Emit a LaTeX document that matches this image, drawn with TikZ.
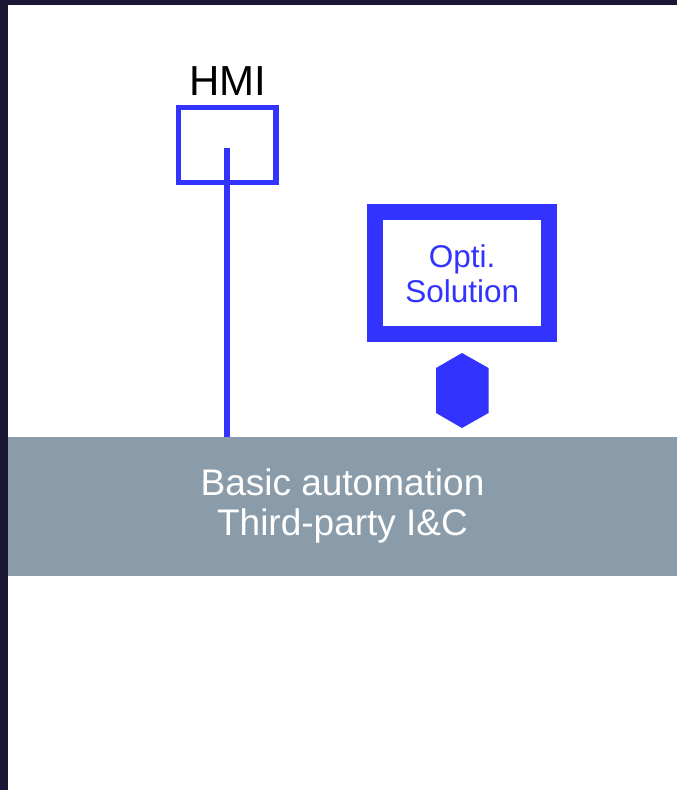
\documentclass[tikz,border=0pt]{standalone}
\usepackage{fontspec}
\setmainfont{Liberation Sans}
\usetikzlibrary{calc}
\definecolor{optiblue}{RGB}{51,51,255}
\definecolor{bargrey}{RGB}{138,156,169}
\definecolor{framedark}{RGB}{26,22,52}
\tikzset{
	panel/.style={rectangle, inner sep=0pt, align=center},
}

\begin{document}
\begin{tikzpicture}[x=1pt, y=-1pt]
	%%%%% START %%%%%
	
	\useasboundingbox (0, 0) rectangle (677, 790);
	\fill[white] (0, 0) rectangle (677, 790);
	\fill[framedark] (0, 0) rectangle (677, 5);
	\fill[framedark] (0, 0) rectangle (8, 790);
	
	\node[panel, fill=bargrey, minimum width=669pt, minimum height=138.5pt, text=white,
		font=\fontsize{37}{40}\selectfont] (bar) at (342.5, 506.25) {Basic automation\\Third-party I\&C};
	
	\node[panel, draw=optiblue, line width=5.5pt, minimum width=97.5pt, minimum height=75pt] (hmi) at (227.25, 145) {};
	\node[font=\fontsize{42}{48}\selectfont, anchor=base] (hmilabel) at (227.5, 95) {HMI};
	\coordinate (hmitop) at (227, 148);
	\draw[optiblue, line width=6pt] (hmitop) -- (hmitop |- bar.north);
	
	\node[panel, draw=optiblue, line width=16pt, minimum width=174.5pt, minimum height=122pt, text=optiblue,
		font=\fontsize{31.5}{35}\selectfont] (opti) at (462.2, 273.3) {Opti.\\Solution};
	
	\fill[optiblue] (462, 353) -- (488.5, 368) -- (488.5, 413) -- (462, 428) -- (436, 413) -- (436, 368) -- cycle;
	
	%%%%% END %%%%%
\end{tikzpicture}
\end{document}
